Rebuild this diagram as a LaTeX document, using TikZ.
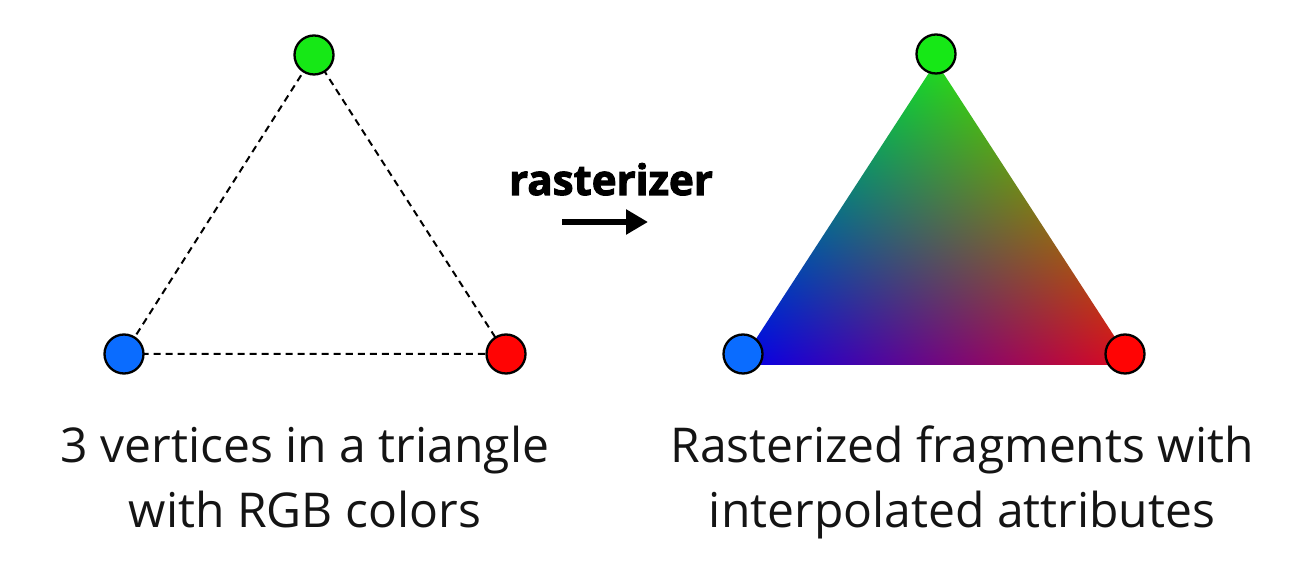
\documentclass[tikz,border=0pt]{standalone}
\usepackage{fontspec}
\setmainfont{Open Sans}
\newfontfamily\heavyfont[BoldFeatures={FakeBold=2.5}]{Open Sans}
\usetikzlibrary{arrows.meta}
% barycentric RGB interpolation over triangle B(0,0) C(394,0) A(197,303)
\pgfdeclarefunctionalshading{rgbtri}{\pgfpoint{0bp}{0bp}}{\pgfpoint{394bp}{303bp}}{}{
  303 div exch 394 div 1 index 2 div sub
  2 copy add 1 exch sub
  2 index 0.12 mul 2 index 0.88 mul add 1 index 0.00 mul add
  3 index 0.86 mul 3 index 0.04 mul add 2 index 0.00 mul add
  4 index 0.12 mul 4 index 0.10 mul add 3 index 0.92 mul add
  6 3 roll pop pop pop
}
\tikzset{
  vert/.style={circle, draw=black, line width=2.3bp, minimum size=39bp, inner sep=0pt},
  gv/.style={vert, fill=vgreen},
  bv/.style={vert, fill=vblue},
  rv/.style={vert, fill=vred},
  edge/.style={draw=black, line width=2bp, dash pattern=on 7bp off 5bp},
  caption/.style={anchor=base, inner sep=0pt, font=\fontsize{48bp}{65bp}\selectfont, text=black!92},
}
\definecolor{vgreen}{RGB}{22,232,22}
\definecolor{vblue}{RGB}{10,108,255}
\definecolor{vred}{RGB}{255,4,4}
\begin{document}
\begin{tikzpicture}[x=1bp, y=1bp]
\useasboundingbox (0,0) rectangle (1315,567);
% left triangle
\coordinate (lg) at (314,512);
\coordinate (lb) at (124,213);
\coordinate (lr) at (506,213);
\draw[edge] (lg) -- (lb) -- (lr) -- cycle;
\node[gv] (LG) at (lg) {};
\node[bv] (LB) at (lb) {};
\node[rv] (LR) at (lr) {};
% right triangle (shaded)
\coordinate (ta) at (936,505);
\coordinate (tb) at (739,202);
\coordinate (tc) at (1133,202);
\begin{scope}
\clip (tb) -- (ta) -- (tc) -- cycle;
\node[inner sep=0pt, outer sep=0pt, anchor=south west] (shade) at (tb) {\pgfuseshading{rgbtri}};
\end{scope}
\node[gv] (RG) at (936,513) {};
\node[bv] (RB) at (743,213) {};
\node[rv] (RR) at (1125,213) {};
% arrow
\node[anchor=base, inner sep=0pt, font=\fontsize{42bp}{44bp}\heavyfont\bfseries] (rast) at (611,372) {rasterizer};
\coordinate (as) at (562,345);
\coordinate (ae) at (648,345);
\draw[line width=6.5bp, -{Triangle[length=22bp, width=24bp]}] (as) -- (ae);
% captions
\node[caption] (l1) at (305,104) {3 vertices in a triangle};
\node[caption] (l2) at (305,39) {with RGB colors};
\node[caption] (r1) at (962,104) {Rasterized fragments with};
\node[caption] (r2) at (962,39) {interpolated attributes};
\end{tikzpicture}
\end{document}
